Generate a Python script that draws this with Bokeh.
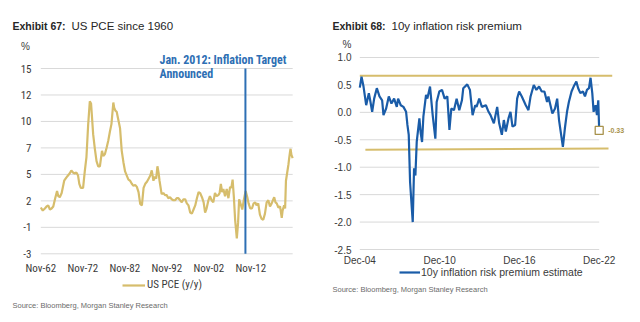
from bokeh.plotting import figure
from bokeh.models import Range1d, Label, Legend, LegendItem
from bokeh.layouts import row
from bokeh.embed import file_html
from bokeh.resources import INLINE

# ---------------- data: US PCE y/y (decimal year, %) ----------------
pce_t = [1962.83, 1963.3, 1963.8, 1964.2, 1964.6, 1965.0, 1965.4, 1965.8, 1966.2, 1966.7,
         1967.0, 1967.35, 1967.8, 1968.4, 1968.9, 1969.3, 1969.7, 1970.1, 1970.5, 1970.9,
         1971.3, 1971.7, 1972.0, 1972.35, 1972.9, 1973.3, 1973.7, 1974.1, 1974.5, 1974.8,
         1975.3, 1975.7, 1976.1, 1976.5, 1976.9, 1977.4, 1977.7, 1978.1, 1978.5, 1978.9,
         1979.3, 1979.65, 1980.1, 1980.3, 1980.6, 1980.9, 1981.2, 1981.7, 1982.1, 1982.5,
         1982.9, 1983.3, 1983.7, 1984.1, 1984.5, 1984.9, 1985.3, 1985.7, 1986.1, 1986.5,
         1986.9, 1987.3, 1987.7, 1988.1, 1988.5, 1988.9, 1989.25, 1989.65, 1990.0, 1990.3,
         1990.6, 1990.9, 1991.1, 1991.6, 1992.0, 1992.4, 1992.8, 1993.2, 1993.6, 1994.0,
         1994.4, 1994.8, 1995.2, 1995.6, 1996.0, 1996.4, 1996.8, 1997.2, 1997.6, 1998.0,
         1998.4, 1998.8, 1999.2, 1999.6, 2000.0, 2000.4, 2000.76, 2001.2, 2001.6, 2001.95,
         2002.3, 2002.74, 2003.1, 2003.5, 2003.9, 2004.3, 2004.7, 2005.1, 2005.4, 2005.7,
         2006.0, 2006.3, 2006.7, 2007.1, 2007.5, 2007.9, 2008.2, 2008.5, 2008.8, 2009.1,
         2009.5, 2009.8, 2010.05, 2010.3, 2010.8, 2011.2, 2011.6, 2012.0, 2012.3, 2012.7,
         2013.1, 2013.5, 2013.9, 2014.2, 2014.6, 2015.0, 2015.4, 2015.8, 2016.2, 2016.6,
         2017.0, 2017.4, 2017.8, 2018.1, 2018.4, 2018.7, 2019.0, 2019.4, 2019.8, 2020.2,
         2020.4, 2020.76, 2021.0, 2021.2, 2021.5, 2021.8, 2022.0, 2022.2, 2022.3, 2022.5,
         2022.8]
pce_v = [1.5, 1.2, 1.4, 1.6, 1.7, 1.3, 1.4, 1.6, 2.3, 3.1,
         2.6, 2.5, 2.9, 4.1, 4.4, 4.6, 4.8, 5.1, 4.9, 4.8,
         4.9, 4.6, 3.8, 3.4, 3.4, 5.0, 6.4, 9.5, 11.8, 11.6,
         8.6, 7.2, 6.0, 5.5, 5.5, 7.0, 6.5, 6.7, 7.3, 8.0,
         8.9, 9.6, 11.7, 11.2, 10.9, 10.8, 10.2, 9.2, 7.0, 5.9,
         5.0, 4.6, 4.2, 4.1, 3.8, 3.6, 3.7, 3.5, 3.0, 1.85,
         1.7, 3.4, 3.8, 4.0, 4.3, 4.6, 5.1, 4.1, 4.5, 4.3,
         5.5, 4.8, 4.1, 2.8, 2.9, 2.7, 2.7, 2.4, 2.5, 2.3,
         2.2, 2.2, 2.4, 2.4, 2.2, 2.0, 2.3, 2.3, 1.9, 1.7,
         1.0, 0.9, 1.3, 1.7, 2.4, 3.0, 2.9, 2.5, 2.0, 1.0,
         1.4, 2.2, 2.6, 2.2, 2.0, 2.9, 2.6, 2.7, 2.9, 3.8,
         3.0, 3.3, 2.6, 3.3, 2.4, 3.5, 3.4, 4.2, 2.5, 0.3,
         -1.5, 0.0, 2.3, 2.0, 1.3, 2.3, 3.1, 2.5, 1.9, 1.4,
         1.4, 1.9, 2.0, 1.7, 1.9, 0.8, 0.4, 0.3, 0.9, 2.0,
         2.2, 1.6, 1.9, 2.2, 2.5, 2.0, 1.9, 1.5, 1.6, 0.5,
         1.2, 1.7, 1.4, 4.1, 4.9, 5.7, 6.4, 7.0, 7.2, 6.6,
         6.3]
pce_target_date = 2011.55   # "Jan. 2012: Inflation Target Announced" marker
pce_xticks = [1962.83, 1972.83, 1982.83, 1992.83, 2002.83, 2012.83]
pce_xlabels = ["Nov-62", "Nov-72", "Nov-82", "Nov-92", "Nov-02", "Nov-12"]
pce_ymin, pce_ymax = -3.0, 15.0
pce_ylabels = ["-3", "-1", "2", "5", "7", "10", "12", "15"]

# ---------------- data: 10y inflation risk premium (decimal year, %) ----------------
rp_t = [2004.92, 2005.05, 2005.2, 2005.4, 2005.6, 2005.7, 2005.85, 2006.0, 2006.2, 2006.4,
        2006.6, 2006.7, 2006.9, 2007.1, 2007.3, 2007.5, 2007.7, 2007.8, 2008.0, 2008.2,
        2008.4, 2008.5, 2008.6, 2008.7, 2008.9, 2009.0, 2009.1, 2009.2, 2009.4, 2009.5,
        2009.6, 2009.7, 2009.9, 2010.0, 2010.2, 2010.4, 2010.6, 2010.7, 2010.9, 2011.1,
        2011.3, 2011.5, 2011.66, 2011.8, 2012.0, 2012.2, 2012.4, 2012.6, 2012.7, 2013.0,
        2013.2, 2013.4, 2013.6, 2013.7, 2013.9, 2014.1, 2014.4, 2014.6, 2014.75, 2015.0,
        2015.25, 2015.4, 2015.6, 2015.75, 2015.9, 2016.1, 2016.25, 2016.4, 2016.6, 2016.75,
        2016.9, 2017.1, 2017.4, 2017.6, 2017.76, 2018.0, 2018.2, 2018.4, 2018.6, 2018.8,
        2019.0, 2019.1, 2019.4, 2019.6, 2019.76, 2019.9, 2020.1, 2020.19, 2020.34, 2020.5,
        2020.64, 2020.84, 2021.0, 2021.2, 2021.34, 2021.5, 2021.7, 2021.85, 2022.0, 2022.15,
        2022.27, 2022.4, 2022.5, 2022.65, 2022.75, 2022.85, 2022.92]
rp_v = [0.45, 0.65, 0.47, 0.13, 0.35, 0.22, 0.01, 0.25, 0.44, 0.29,
        0.22, -0.05, 0.07, 0.29, 0.16, 0.25, 0.10, 0.25, 0.13, 0.10,
        0.01, -0.23, -0.41, -1.27, -2.0, -1.02, -1.15, -0.54, -0.11, -0.38,
        -0.54, -0.08, 0.32, 0.25, 0.47, -0.05, -0.48, 0.19, 0.38, 0.41,
        0.25, 0.29, -0.32, 0.07, 0.04, 0.25, 0.04, 0.22, 0.44, 0.51,
        0.41, -0.05, 0.13, 0.10, 0.25, 0.10, 0.13, 0.01, -0.05, -0.20,
        0.10, -0.20, -0.41, -0.14, -0.35, -0.11, 0.01, -0.26, -0.23, 0.25,
        0.38, 0.29, 0.13, 0.04, 0.29, 0.50, 0.41, 0.47, 0.38, 0.38,
        0.19, 0.29, -0.02, 0.07, 0.25, -0.14, -0.48, -0.63, -0.29, 0.01,
        0.19, 0.38, 0.47, 0.56, 0.44, 0.35, 0.38, 0.29, 0.41, 0.44,
        0.63, 0.35, 0.01, 0.13, -0.05, 0.22, -0.33]
rp_last_t, rp_last_v = 2022.92, -0.33
band_upper_t = [2004.92, 2023.9]
band_upper_v = [0.668, 0.668]
band_lower_t = [2005.34, 2023.62]
band_lower_v = [-0.68, -0.66]
rp_xticks = [2004.92, 2010.92, 2016.92, 2022.92]
rp_xlabels = ["Dec-04", "Dec-10", "Dec-16", "Dec-22"]
rp_yticks = [1.0, 0.5, 0.0, -0.5, -1.0, -1.5, -2.0, -2.5]

# ---------------- styles ----------------
TAN = "#d6bd6c"
TAN_DARK = "#a8924c"
BLUE = "#1a5ca8"
VBLUE = "#2e6fb4"
GRID = "#d9d9d9"
TXT = "#3a3a3a"
TITLE = "#262626"
SRC = "#6b6b6b"
NARROW = "'Liberation Sans Narrow', 'Arial Narrow', 'Roboto Condensed', 'DejaVu Sans Condensed', sans-serif"
SANS = "'Liberation Sans', Arial, sans-serif"
W, H = 320, 322


def panel(x_start, px_per_x, y_start, px_per_y):
    p = figure(width=W, height=H, output_backend="svg", toolbar_location=None,
               x_range=Range1d(x_start, x_start + W / px_per_x),
               y_range=Range1d(y_start, y_start + H / px_per_y),
               x_axis_location=None, y_axis_location=None,
               min_border=0, min_border_left=0, min_border_right=0,
               min_border_top=0, min_border_bottom=0)
    p.grid.visible = False
    p.outline_line_color = None
    p.background_fill_color = "white"
    p.border_fill_color = "white"
    return p


def lab(p, x, y, text, size, font, color, style="normal", align="left", baseline="middle",
        xu="screen", yu="screen", x_offset=0):
    # screen units: pixels from the panel's bottom-left corner
    p.add_layout(Label(x=x, y=y, x_units=xu, y_units=yu, text=text, x_offset=x_offset,
                       text_font=font, text_font_size=size, text_color=color,
                       text_font_style=style, text_align=align, text_baseline=baseline))


# ================= Left: Exhibit 67 =================
L_PX_YR = 4.2
L_PX_UNIT = 10.294
p1 = panel(pce_xticks[0] - 40.3 / L_PX_YR, L_PX_YR,
           pce_ymin - (H - 253.3) / L_PX_UNIT, L_PX_UNIT)

step = (pce_ymax - pce_ymin) / (len(pce_ylabels) - 1)
pce_yticks = [pce_ymin + k * step for k in range(len(pce_ylabels))]
# gridlines
p1.segment(x0=[pce_t[0]] * len(pce_yticks), x1=[pce_t[-1]] * len(pce_yticks),
           y0=pce_yticks, y1=pce_yticks, line_color=GRID, line_width=1)
r_pce = p1.line(pce_t, pce_v, line_color=TAN, line_width=2.2)
p1.segment(x0=[pce_target_date], x1=[pce_target_date], y0=[pce_ymin], y1=[pce_ymax],
           line_color=VBLUE, line_width=2)
# tick labels
for t, s in zip(pce_yticks, pce_ylabels):
    lab(p1, 31, t, s, "11px", NARROW, TXT, align="right", yu="data")
for t, s in zip(pce_xticks, pce_xlabels):
    lab(p1, t, H - 268, s, "11px", NARROW, TXT, align="center", xu="data")
# texts
lab(p1, 12, H - 25, "Exhibit 67:", "10.5px", SANS, TITLE, "bold", baseline="alphabetic")
lab(p1, 71, H - 25, "US PCE since 1960", "11.5px", SANS, TITLE, baseline="alphabetic")
lab(p1, 25, H - 46, "%", "10px", SANS, TXT, align="center")
lab(p1, 159, H - 59, "Jan. 2012: Inflation Target", "12px", NARROW, VBLUE, "bold")
lab(p1, 159, H - 73, "Announced", "12px", NARROW, VBLUE, "bold")
lab(p1, 12, H - 305, "Source: Bloomberg, Morgan Stanley Research", "7.5px", SANS, SRC)
p1.add_layout(Legend(items=[LegendItem(label="US PCE (y/y)", renderers=[r_pce])],
                     location=(122, H - 291), orientation="horizontal",
                     padding=0, margin=0, spacing=0,
                     glyph_width=23, glyph_height=12, label_standoff=2, label_height=12,
                     label_text_font=NARROW, label_text_font_size="11px",
                     label_text_color=TXT, label_text_baseline="middle",
                     border_line_alpha=0, background_fill_alpha=0))

# ================= Right: Exhibit 68 =================
R_PX_YR = 13.3
R_PX_UNIT = 54.86
p2 = panel(rp_xticks[0] - 39.3 / R_PX_YR, R_PX_YR,
           rp_yticks[-1] - (H - 249) / R_PX_UNIT, R_PX_UNIT)

p2.segment(x0=[rp_xticks[0]] * len(rp_yticks), x1=[rp_xticks[-1]] * len(rp_yticks),
           y0=rp_yticks, y1=rp_yticks, line_color=GRID, line_width=1)
p2.line(band_upper_t, band_upper_v, line_color=TAN, line_width=2)
p2.line(band_lower_t, band_lower_v, line_color=TAN, line_width=2)
r_rp = p2.line(rp_t, rp_v, line_color=BLUE, line_width=2.2)
p2.scatter([rp_last_t], [rp_last_v], marker="square", size=8, fill_color="white",
           line_color=TAN_DARK, line_width=1.3)
lab(p2, rp_last_t, rp_last_v, f"{rp_last_v:.2f}", "7px", SANS, TAN_DARK, "bold",
    xu="data", yu="data", x_offset=9)
for t in rp_yticks:
    lab(p2, 31, t, f"{t:.1f}", "10px", SANS, TXT, align="right", yu="data")
for t, s in zip(rp_xticks, rp_xlabels):
    lab(p2, t, H - 260, s, "10px", SANS, TXT, align="center", xu="data")
lab(p2, 12, H - 25, "Exhibit 68:", "10.5px", SANS, TITLE, "bold", baseline="alphabetic")
lab(p2, 71, H - 25, "10y inflation risk premium", "11.5px", SANS, TITLE, baseline="alphabetic")
lab(p2, 26.5, H - 44, "%", "10px", SANS, TXT, align="center")
lab(p2, 12, H - 289, "Source: Bloomberg, Morgan Stanley Research", "7.5px", SANS, SRC)
p2.add_layout(Legend(items=[LegendItem(label="10y inflation risk premium estimate",
                                       renderers=[r_rp])],
                     location=(79, H - 278), orientation="horizontal",
                     padding=0, margin=0, spacing=0,
                     glyph_width=21, glyph_height=12, label_standoff=1, label_height=12,
                     label_text_font=SANS, label_text_font_size="10.5px",
                     label_text_color=TXT, label_text_baseline="middle",
                     border_line_alpha=0, background_fill_alpha=0))

layout = row(p1, p2, spacing=0)
open("out.html", "w").write(file_html(layout, INLINE))
